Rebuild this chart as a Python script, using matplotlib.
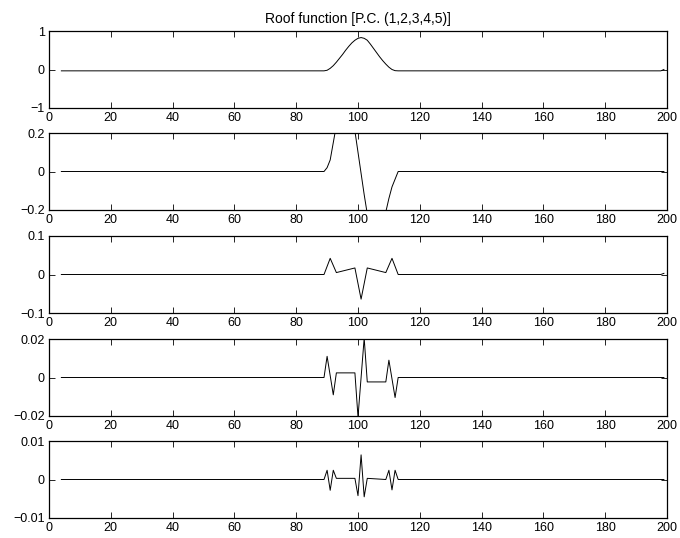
import numpy as np
import matplotlib.pyplot as plt

plt.rcParams['font.family'] = ['Liberation Sans', 'DejaVu Sans']

# sample range of the principal components
x_start, x_end = 4, 199

# P.C. 1 - smooth roof bump
pc1_x = [89, 90, 91, 92, 93, 94, 95, 96, 97, 98, 99, 100, 101,
         102, 103, 104, 105, 106, 107, 108, 109, 110, 111, 112, 113, 198]
pc1_y = [-0.035, -0.02, 0.03, 0.10, 0.19, 0.29, 0.39, 0.50, 0.60, 0.69, 0.76, 0.81, 0.83,
         0.81, 0.76, 0.66, 0.55, 0.44, 0.33, 0.23, 0.14, 0.06, 0.0, -0.03, -0.035, -0.035]
pc1_base, pc1_last = -0.035, 0.0

# P.C. 2
pc2_x = [89, 90, 91, 92, 93, 94, 95, 96, 97, 98, 99, 100, 101,
         102, 103, 104, 105, 106, 107, 108, 109, 110, 111, 112, 113]
pc2_y = [0.0, 0.02, 0.06, 0.15, 0.24, 0.30, 0.33, 0.33, 0.30, 0.25, 0.21, 0.10, -0.01,
         -0.12, -0.22, -0.28, -0.31, -0.31, -0.29, -0.25, -0.21, -0.14, -0.08, -0.04, 0.0]
pc2_base, pc2_last = 0.0, 0.0

# P.C. 3
pc3_x = [89, 91, 93, 99, 101, 103, 109, 111, 113, 198]
pc3_y = [0.0, 0.042, 0.005, 0.017, -0.064, 0.017, 0.005, 0.042, 0.0, 0.0]
pc3_base, pc3_last = 0.0, 0.003

# P.C. 4
pc4_x = [89, 90, 92, 93, 99, 100, 101, 102, 103, 109, 110, 112, 113]
pc4_y = [0.0, 0.011, -0.009, 0.0024, 0.0024, -0.0205, 0.0, 0.0205, -0.0023,
         -0.0023, 0.009, -0.0104, 0.0]
pc4_base, pc4_last = 0.0, 0.0

# P.C. 5
pc5_x = [89, 90, 91, 92, 93, 99, 100, 101, 102, 103, 109, 110, 111, 112, 113]
pc5_y = [0.0, 0.0024, -0.0028, 0.0024, 0.0003, 0.0003, -0.0042, 0.0064, -0.0045,
         0.0003, 0.0, 0.0024, -0.0027, 0.0024, 0.0]
pc5_base, pc5_last = 0.0, 0.0

y_limits = [1, 0.2, 0.1, 0.02, 0.01]
y_ticklabels = [['\u22121', '0', '1'],
                ['\u22120.2', '0', '0.2'],
                ['\u22120.1', '0', '0.1'],
                ['\u22120.02', '0', '0.02'],
                ['\u22120.01', '0', '0.01']]
x_ticks = list(range(0, 201, 20))

curves = [(pc1_x, pc1_y, pc1_base, pc1_last),
          (pc2_x, pc2_y, pc2_base, pc2_last),
          (pc3_x, pc3_y, pc3_base, pc3_last),
          (pc4_x, pc4_y, pc4_base, pc4_last),
          (pc5_x, pc5_y, pc5_base, pc5_last)]

fig = plt.figure(figsize=(6.8, 5.38), dpi=100)

left, width, height = 49 / 680, 618 / 680, 77 / 538
bottoms = [430 / 538, 328 / 538, 225 / 538, 122 / 538, 20 / 538]

for i, (cx, cy, base, last) in enumerate(curves):
    ax = fig.add_axes([left, bottoms[i], width, height])
    xs = [x_start] + cx + [x_end]
    ys = [base] + cy + [last]
    ax.plot(xs, ys, color='black', linewidth=0.7)
    lim = y_limits[i]
    ax.set_xlim(0, 200)
    ax.set_ylim(-lim, lim)
    ax.set_xticks(x_ticks)
    ax.set_yticks([-lim, 0, lim])
    ax.set_yticklabels(y_ticklabels[i])
    ax.tick_params(direction='in', length=4.5, width=0.6, top=True, right=True,
                   labelsize=9, pad=3)
    for s in ax.spines.values():
        s.set_linewidth(0.9)
    if i == 0:
        ax.set_title('Roof function [P.C. (1,2,3,4,5)]', fontsize=10, pad=6)

fig.savefig('out.png', dpi=100)
